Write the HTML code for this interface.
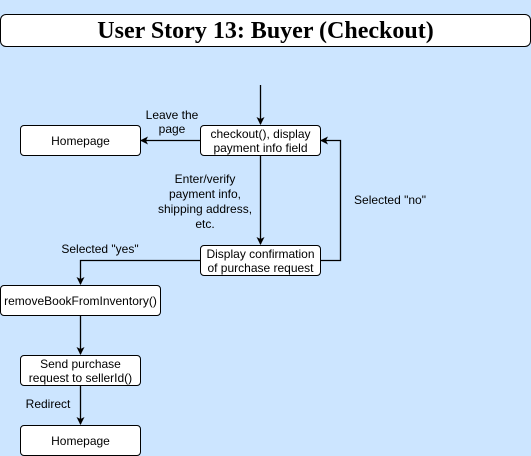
<!DOCTYPE html>
<html><head><style>
body{margin:0;width:531px;height:456px;background:#cce5ff;overflow:hidden;position:relative;font-family:"Liberation Sans",sans-serif;}
.b{position:absolute;box-sizing:border-box;background:#fff;border:1px solid #000;border-radius:4px;display:flex;align-items:center;justify-content:center;text-align:center;font-size:12px;line-height:14px;}
.t{position:absolute;font-size:12px;line-height:14px;text-align:center;}
</style></head><body>
<div class="b" style="left:0;top:14px;width:531px;height:33px;border-radius:6px;font-family:'Liberation Serif',serif;font-weight:bold;font-size:24px;">User Story 13: Buyer (Checkout)</div>
<svg width="531" height="456" style="position:absolute;left:0;top:0">
<defs><marker id="a" markerWidth="8" markerHeight="8" refX="7" refY="4" orient="auto" markerUnits="userSpaceOnUse"><path d="M0,0 L8,4 L0,8 L2,4z" fill="#000"/></marker></defs>
<g stroke="#000" stroke-width="1.3" fill="none" marker-end="url(#a)">
<path d="M260.5,85 V124"/>
<path d="M200,140.5 H141"/>
<path d="M260.5,155 V244"/>
<path d="M320,260.5 H340.5 V140.5 H321"/>
<path d="M200,260.5 H80.5 V284"/>
<path d="M80.5,315 V354"/>
<path d="M80.5,385 V424"/>
</g></svg>
<div class="b" style="left:200px;top:125px;width:121px;height:31px">checkout(), display<br>payment info field</div>
<div class="b" style="left:20px;top:125px;width:121px;height:31px">Homepage</div>
<div class="b" style="left:200px;top:245px;width:121px;height:31px">Display confirmation<br>of purchase request</div>
<div class="b" style="left:0;top:285px;width:161px;height:31px">removeBookFromInventory()</div>
<div class="b" style="left:20px;top:355px;width:121px;height:31px">Send purchase<br>request to sellerId()</div>
<div class="b" style="left:20px;top:425px;width:121px;height:31px">Homepage</div>
<div class="t" style="left:140px;top:108px;width:64px">Leave the<br>page</div>
<div class="t" style="left:150px;top:172px;width:110px;line-height:15px">Enter/verify<br>payment info,<br>shipping address,<br>etc.</div>
<div class="t" style="left:345px;top:193px;width:90px">Selected "no"</div>
<div class="t" style="left:55px;top:242px;width:90px">Selected "yes"</div>
<div class="t" style="left:18px;top:397px;width:60px">Redirect</div>
</body></html>
